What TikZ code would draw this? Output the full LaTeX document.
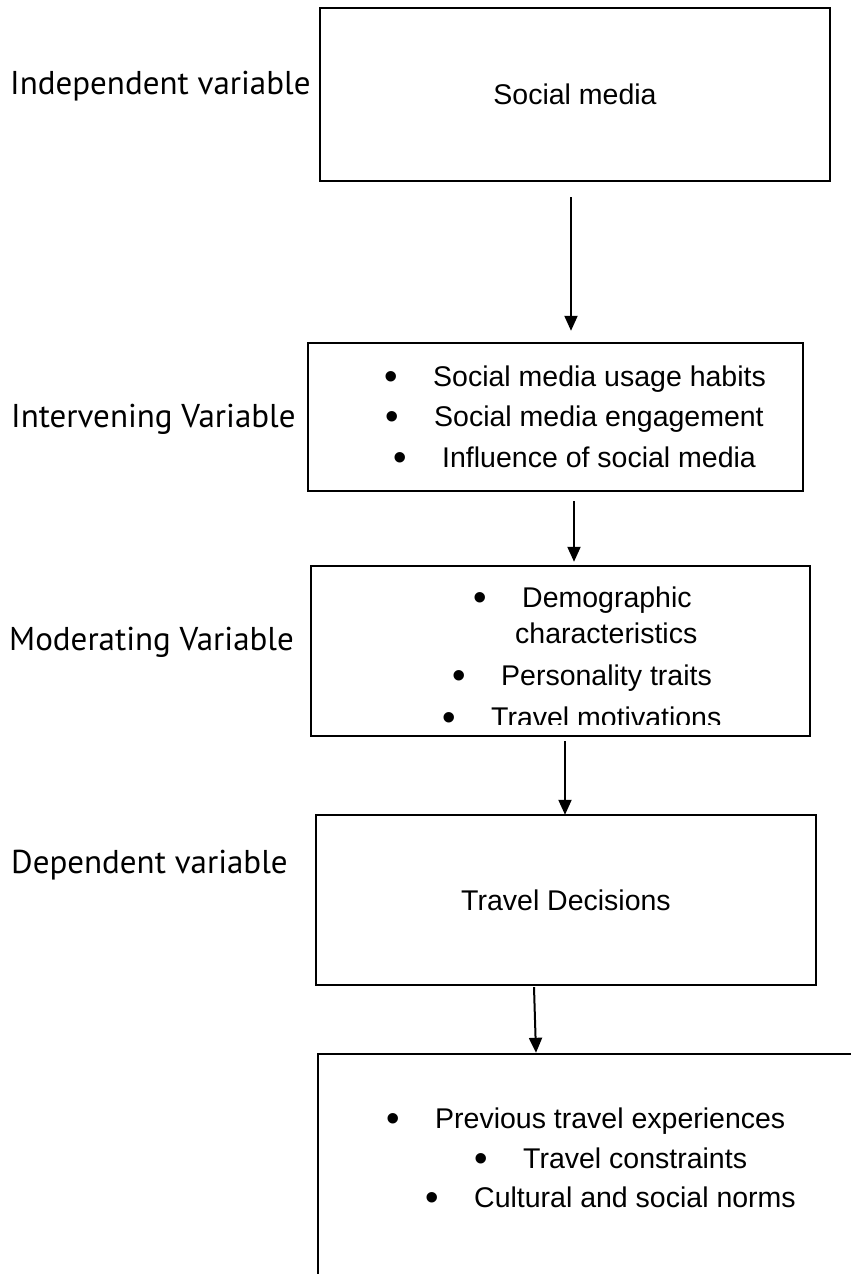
\documentclass[tikz,border=0pt]{standalone}
\usepackage{fontspec}
\setmainfont{Liberation Sans}
\newfontfamily\labelfont{PT Sans}
\usetikzlibrary{arrows.meta}
\newcommand{\mybul}{\makebox[10pt][c]{\raisebox{-3.5pt}{\scalebox{1.35}{•}}}}
\begin{document}
\begin{tikzpicture}[x=1pt,y=-1pt,
  box/.style={draw, line width=2.4pt, inner sep=0pt, font=\fontsize{28.5}{34}\selectfont},
  conn/.style={line width=2pt, -{Triangle[width=13pt,length=15pt]}},
  item/.style={anchor=base west, inner sep=0pt, font=\fontsize{28.5}{34}\selectfont},
  lab/.style={anchor=base west, inner sep=0pt, font=\labelfont\fontsize{33}{40}\selectfont}]
\useasboundingbox (0,0) rectangle (851,1274);
\clip (0,0) rectangle (851,1274);
% left labels
\node[lab] (l1) at (10,94) {Independent variable};
\node[lab] (l2) at (11,427) {Intervening Variable};
\node[lab] (l3) at (9,650) {Moderating Variable};
\node[lab] (l4) at (11,873) {Dependent variable};
% boxes
\node[box, minimum width=510pt, minimum height=173pt] (b1) at (575,94.5) {Social media};
\node[box, minimum width=495pt, minimum height=148pt] (b2) at (555.5,417) {};
\node[box, minimum width=499pt, minimum height=170pt] (b3) at (560.5,651) {};
\node[box, minimum width=500pt, minimum height=170pt] (b4) at (566,900) {Travel Decisions};
\node[box, minimum width=582pt, minimum height=350pt] (b5) at (609,1229) {};
% box 2 items
\node[item] (i21) at (386,386) {\mybul\hspace{37pt}Social media usage habits};
\node[item] (i22) at (387,426) {\mybul\hspace{37pt}Social media engagement};
\node[item] (i23) at (395,467) {\mybul\hspace{37pt}Influence of social media};
% box 3 items
\begin{scope}
\clip (311,566) rectangle (810,724);
\node[item] (i31) at (475,607) {\mybul\hspace{37pt}Demographic};
\node[item] (i31b) at (515,643) {characteristics};
\node[item] (i32) at (454,685) {\mybul\hspace{37pt}Personality traits};
\node[item] (i33) at (444,727) {\mybul\hspace{37pt}Travel motivations};
\end{scope}
% box 5 items
\node[item] (i51) at (388,1128) {\mybul\hspace{37pt}Previous travel experiences};
\node[item] (i52) at (476,1168) {\mybul\hspace{37pt}Travel constraints};
\node[item] (i53) at (427,1207) {\mybul\hspace{37pt}Cultural and social norms};
% connectors
\draw[conn] ([shift={(-4,15)}]b1.south) -- ([shift={(15.5,-11)}]b2.north);
\draw[conn] ([shift={(18.5,9)}]b2.south) -- ([shift={(13.5,-3)}]b3.north);
\draw[conn] ([shift={(4.5,4)}]b3.south) -- ([shift={(-1,1)}]b4.north);
\draw[conn] ([shift={(-32,1)}]b4.south) -- ([shift={(-73,0)}]b5.north);
\end{tikzpicture}
\end{document}
